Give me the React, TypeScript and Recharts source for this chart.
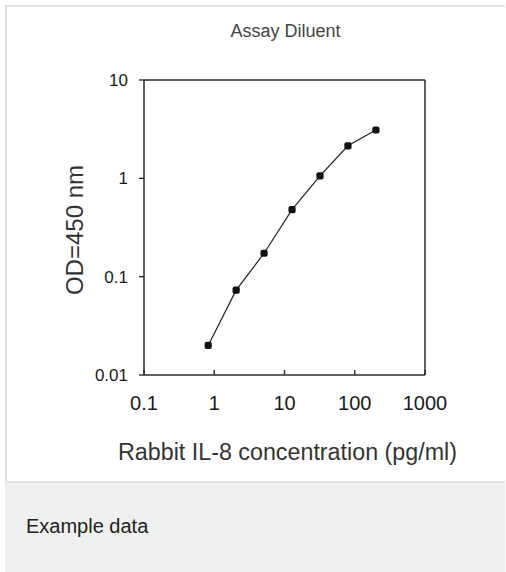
import React from 'react'
import {
  ScatterChart,
  Scatter,
  XAxis,
  YAxis,
  ReferenceLine,
  Label,
} from 'recharts'

const concentrations = [0.82, 2.05, 5.12, 12.8, 32, 80, 200]
const odValues = [0.02, 0.073, 0.173, 0.48, 1.06, 2.14, 3.1]
const xTicks = [0.1, 1, 10, 100, 1000]
const yTicks = [0.01, 0.1, 1, 10]

const data = concentrations.map((c, i) => ({ x: c, y: odValues[i] }))

const FONT = '"Liberation Sans", Arial, sans-serif'
const INK = '#2b2b2b'

function XTick({ x, y, payload }: any) {
  return (
    <g>
      <line x1={x} x2={x} y1={y} y2={y - 5} stroke={INK} strokeWidth={1.4} />
      <text x={x} y={y + 35} textAnchor="middle" fontSize={20} fill="#1a1a1a" fontFamily={FONT}>
        {payload.value}
      </text>
    </g>
  )
}

function YTick({ x, y, payload }: any) {
  return (
    <g>
      <line x1={x - 5} x2={x} y1={y} y2={y} stroke={INK} strokeWidth={1.4} />
      <text x={x - 16} y={y + 6} textAnchor="end" fontSize={17} fill="#1a1a1a" fontFamily={FONT}>
        {payload.value}
      </text>
    </g>
  )
}

function Dot({ cx, cy }: any) {
  return <rect x={cx - 3.6} y={cy - 3.6} width={7.2} height={7.2} rx={2} fill="#111" />
}

export default function App() {
  return (
    <div
      style={{
        position: 'absolute',
        left: 0,
        top: 0,
        width: 506,
        height: 572,
        overflow: 'hidden',
        background: '#fff',
        fontFamily: FONT,
      }}
    >
      <div
        style={{
          position: 'absolute',
          left: 5,
          top: 5,
          width: 500,
          height: 478,
          boxSizing: 'border-box',
          border: '2px solid #e3e3e3',
          borderRight: 'none',
        }}
      />
      <div
        style={{
          position: 'absolute',
          left: 5,
          top: 483,
          width: 500,
          height: 89,
          background: '#eef0ef',
        }}
      />
      <div
        style={{
          position: 'absolute',
          left: 26,
          top: 516,
          fontSize: 20,
          lineHeight: '20px',
          color: '#222',
          whiteSpace: 'nowrap',
        }}
      >
        Example data
      </div>
      <div
        style={{
          position: 'absolute',
          left: 185,
          top: 22,
          width: 201,
          textAlign: 'center',
          fontSize: 18,
          lineHeight: '19px',
          color: '#444',
        }}
      >
        Assay Diluent
      </div>
      <div style={{ position: 'absolute', left: 0, top: 0 }}>
        <ScatterChart
          width={506}
          height={483}
          margin={{ top: 80, right: 81, bottom: 78, left: 0 }}
        >
          <XAxis
            type="number"
            dataKey="x"
            scale="log"
            domain={[0.1, 1000]}
            ticks={xTicks}
            allowDataOverflow
            height={30}
            tickSize={0}
            tickMargin={0}
            tick={<XTick />}
            axisLine={{ stroke: INK, strokeWidth: 1.5 }}
          >
            <Label
              content={() => (
                <text
                  x={287.5}
                  y={460}
                  textAnchor="middle"
                  fontSize={23}
                  fill="#333"
                  fontFamily={FONT}
                  textLength={339}
                  lengthAdjust="spacingAndGlyphs"
                >
                  Rabbit IL-8 concentration (pg/ml)
                </text>
              )}
            />
          </XAxis>
          <YAxis
            type="number"
            dataKey="y"
            scale="log"
            domain={[0.01, 10]}
            ticks={yTicks}
            allowDataOverflow
            width={144}
            tickSize={0}
            tickMargin={0}
            tick={<YTick />}
            axisLine={{ stroke: INK, strokeWidth: 1.5 }}
          >
            <Label
              content={() => (
                <text
                  x={83}
                  y={230}
                  transform="rotate(-90, 83, 230)"
                  textAnchor="middle"
                  fontSize={24}
                  fill="#333"
                  fontFamily={FONT}
                >
                  OD=450 nm
                </text>
              )}
            />
          </YAxis>
          <ReferenceLine y={10} stroke={INK} strokeWidth={1.5} />
          <ReferenceLine x={1000} stroke={INK} strokeWidth={1.5} />
          <Scatter
            data={data}
            line={{ stroke: '#222', strokeWidth: 1.2 }}
            shape={<Dot />}
            isAnimationActive={false}
          />
        </ScatterChart>
      </div>
    </div>
  )
}
